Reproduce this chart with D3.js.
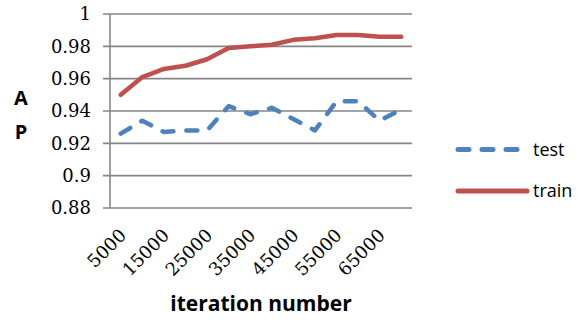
<!DOCTYPE html>
<html><head><meta charset="utf-8">
<script src="https://cdn.jsdelivr.net/npm/d3@7/dist/d3.min.js"></script>
<style>body{margin:0;background:#fff}svg{display:block}</style>
</head><body>
<script>
const iterations = [5000,10000,15000,20000,25000,30000,35000,40000,45000,50000,55000,60000,65000,70000];
const testAP  = [0.926,0.934,0.927,0.928,0.928,0.943,0.938,0.942,0.935,0.928,0.946,0.946,0.934,0.941];
const trainAP = [0.950,0.961,0.966,0.968,0.972,0.979,0.980,0.981,0.984,0.985,0.987,0.987,0.986,0.986];
const yTicks = [0.88,0.9,0.92,0.94,0.96,0.98,1];
const xTickLabels = [5000,15000,25000,35000,45000,55000,65000];
const seriesNames = ["test","train"];

(function(){
const W=583,H=325;
const serif="'DejaVu Serif', serif";
const sans="'Open Sans', 'Noto Sans', sans-serif";
const svg=d3.select("body").append("svg").attr("width",W).attr("height",H);
const pl=110,pr=412,pt=14,pb=208;
const x=d3.scaleBand().domain(iterations).range([pl,pr]);
const y=d3.scaleLinear().domain([0.88,1]).range([pb,pt]);
const grid="#868686";

svg.append("g").selectAll("line").data(yTicks).join("line")
  .attr("x1",pl-7).attr("x2",pr).attr("y1",d=>y(d)).attr("y2",d=>y(d))
  .attr("stroke",grid).attr("stroke-width",1.6);
svg.append("line").attr("x1",pl).attr("x2",pl).attr("y1",pt).attr("y2",pb)
  .attr("stroke",grid).attr("stroke-width",1.6);

svg.append("g").selectAll("text").data(yTicks).join("text")
  .attr("x",91).attr("y",d=>y(d)).attr("dy","0.35em").attr("text-anchor","end")
  .style("font-family",serif).style("font-size","18px").attr("fill","#000")
  .text(d=>d3.format("")(d));

svg.append("g").selectAll("text").data(xTickLabels).join("text")
  .attr("transform",d=>`translate(${x(d)+x.bandwidth()/2+2},${pb+24}) rotate(-45)`)
  .attr("text-anchor","end").attr("dy","0.35em")
  .style("font-family",serif).style("font-size","18px").attr("fill","#000")
  .text(d=>d);

const cx=d=>x(d)+x.bandwidth()/2;
const line=d3.line().x((d,i)=>cx(iterations[i])).y(d=>y(d));
svg.append("path").datum(trainAP).attr("d",line).attr("fill","none")
  .attr("stroke","#c0504d").attr("stroke-width",4.5).attr("stroke-linejoin","round").attr("stroke-linecap","round");
svg.append("path").datum(testAP).attr("d",line).attr("fill","none")
  .attr("stroke","#4f81bd").attr("stroke-width",4.5).attr("stroke-linejoin","round").attr("stroke-linecap","round")
  .attr("stroke-dasharray","11,13");

const lg=svg.append("g");
lg.append("line").attr("x1",458).attr("x2",518).attr("y1",149.5).attr("y2",149.5)
  .attr("stroke","#4f81bd").attr("stroke-width",5).attr("stroke-linecap","round").attr("stroke-dasharray","11,13");
lg.append("line").attr("x1",458).attr("x2",527).attr("y1",191).attr("y2",191)
  .attr("stroke","#c0504d").attr("stroke-width",5).attr("stroke-linecap","round");
lg.selectAll("text").data(seriesNames).join("text")
  .attr("x",533).attr("y",(d,i)=>i?191:149.5).attr("dy","0.35em")
  .style("font-family",sans).style("font-size","18px").attr("fill","#000").text(d=>d);

svg.append("text").attr("x",21).attr("y",98).attr("dy","0.35em").attr("text-anchor","middle")
  .style("font-family",sans).style("font-weight","bold").style("font-size","20px").text("A");
svg.append("text").attr("x",21).attr("y",132).attr("dy","0.35em").attr("text-anchor","middle")
  .style("font-family",sans).style("font-weight","bold").style("font-size","20px").text("P");
svg.append("text").attr("x",261).attr("y",311).attr("text-anchor","middle")
  .style("font-family",sans).style("font-weight","bold").style("font-size","21px").text("iteration number");
})();
</script>
</body></html>
